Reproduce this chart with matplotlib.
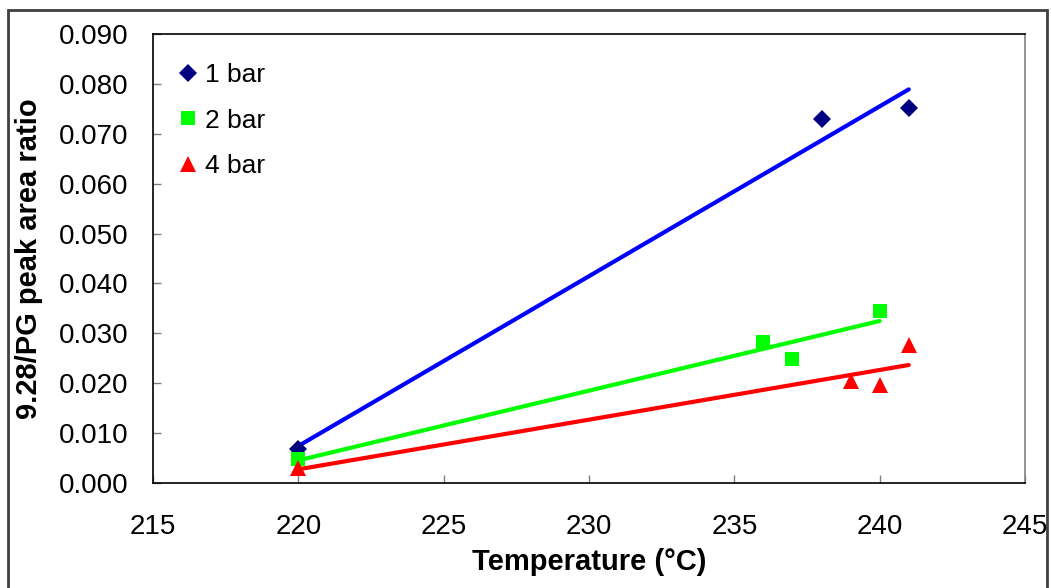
import matplotlib.pyplot as plt
import numpy as np
from matplotlib.patches import Rectangle
from matplotlib.ticker import FormatStrFormatter

plt.rcParams['font.family'] = ['Liberation Sans', 'DejaVu Sans']

# data
temp_1bar = [220, 238, 241]
ratio_1bar = [0.0068, 0.0730, 0.0752]
temp_2bar = [220, 236, 237, 240]
ratio_2bar = [0.0048, 0.0282, 0.0248, 0.0344]
temp_4bar = [220, 239, 240, 241]
ratio_4bar = [0.0030, 0.0204, 0.0197, 0.0276]

series = [
    ("1 bar", temp_1bar, ratio_1bar, "D", "#000080", "#0000FF", 9),
    ("2 bar", temp_2bar, ratio_2bar, "s", "#00FF00", "#00FF00", 9.5),
    ("4 bar", temp_4bar, ratio_4bar, "^", "#FF0000", "#FF0000", 11),
]

fig = plt.figure(figsize=(10.51, 5.88), dpi=100)
ax = fig.add_axes([153 / 1051, 1 - 483 / 588, 872 / 1051, 449 / 588])

for label, x, y, mk, mc, lc, ms in series:
    x = np.asarray(x, float)
    y = np.asarray(y, float)
    # linear trendline over the data range
    k, b = np.polyfit(x, y, 1)
    xs = np.array([x.min(), x.max()])
    ax.plot(xs, k * xs + b, color=lc, lw=3, solid_capstyle="round", zorder=2)
    ax.plot(x, y, linestyle="none", marker=mk, color=mc, markersize=ms,
            markeredgewidth=0, label=label, zorder=3)

ax.set_xlim(215, 245)
ax.set_ylim(0, 0.09)
ax.set_xticks(np.arange(215, 246, 5))
ax.set_yticks(np.arange(0, 0.0901, 0.01))
ax.yaxis.set_major_formatter(FormatStrFormatter("%.3f"))
ax.tick_params(direction="in", length=6, width=1, color="#808080", labelsize=20)
ax.tick_params(axis="y", pad=18)
ax.tick_params(axis="x", pad=22)
for s in ax.spines.values():
    s.set_linewidth(1.2)
ax.spines["right"].set_color("#808080")

ax.set_xlabel("Temperature (°C)", fontsize=21, fontweight="bold")
ax.set_ylabel("9.28/PG peak area ratio", fontsize=21, fontweight="bold")
ax.xaxis.set_label_coords(0.5, (483 - 548) / 449)
ax.xaxis.label.set_va("top")
ax.yaxis.set_label_coords((43 - 153) / 872, 0.5)

ax.legend(loc="upper left", frameon=False, fontsize=19, handletextpad=0.15,
          handlelength=1.0, labelspacing=0.82, borderaxespad=0, borderpad=0,
          bbox_to_anchor=((175 - 153) / 872, (483 - 63) / 449))

fig.patches.append(Rectangle((8 / 1051, -0.01), 1039 / 1051, 1 - 10 / 588 + 0.01,
                             transform=fig.transFigure, fill=False,
                             edgecolor="#404040", lw=2))

fig.savefig("out.png", dpi=100, facecolor="white")
